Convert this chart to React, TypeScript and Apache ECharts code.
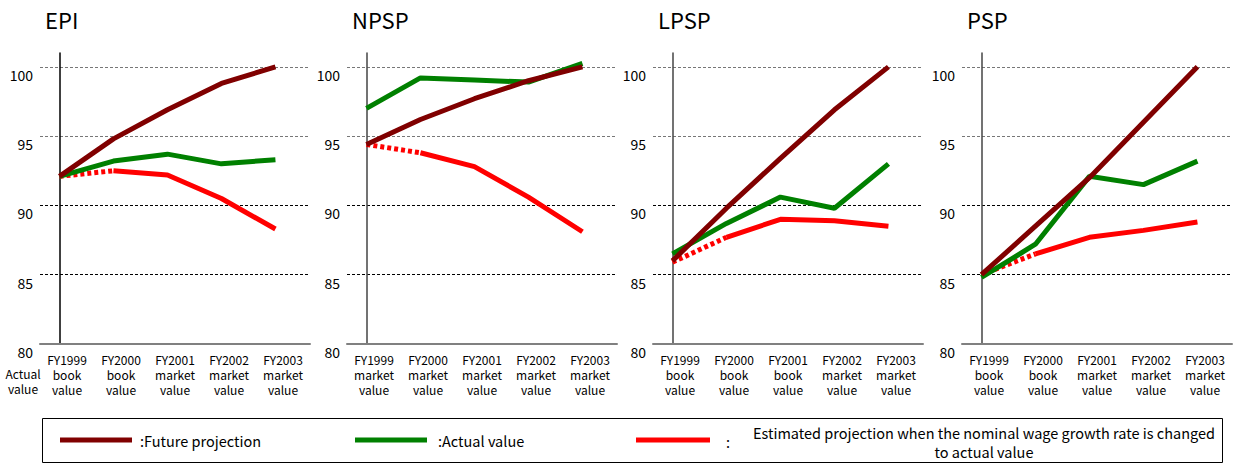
import React, { useEffect, useRef } from "react";
import * as echarts from "echarts";

const FONT = '"Noto Sans CJK JP", "Noto Sans", sans-serif';

const panelTitles = ["EPI", "NPSP", "LPSP", "PSP"];
const yTickValues = [80, 85, 90, 95, 100];

const catsEPI = ["FY1999\nbook\nvalue", "FY2000\nbook\nvalue", "FY2001\nmarket\nvalue", "FY2002\nmarket\nvalue", "FY2003\nmarket\nvalue"];
const catsNPSP = ["FY1999\nmarket\nvalue", "FY2000\nmarket\nvalue", "FY2001\nmarket\nvalue", "FY2002\nmarket\nvalue", "FY2003\nmarket\nvalue"];
const catsLPSP = ["FY1999\nbook\nvalue", "FY2000\nbook\nvalue", "FY2001\nbook\nvalue", "FY2002\nmarket\nvalue", "FY2003\nmarket\nvalue"];
const catsPSP = ["FY1999\nbook\nvalue", "FY2000\nbook\nvalue", "FY2001\nmarket\nvalue", "FY2002\nmarket\nvalue", "FY2003\nmarket\nvalue"];

// Future projection
const futureEPI = [92.1, 94.8, 96.9, 98.8, 100.0];
const futureNPSP = [94.4, 96.2, 97.7, 99.0, 100.0];
const futureLPSP = [86.0, 89.8, 93.4, 96.9, 100.0];
const futurePSP = [85.0, 88.5, 92.0, 96.0, 100.0];

// Actual value
const actualEPI = [92.1, 93.2, 93.7, 93.0, 93.3];
const actualNPSP = [97.0, 99.2, 99.05, 98.9, 100.25];
const actualLPSP = [86.5, 88.7, 90.6, 89.8, 93.0];
const actualPSP = [84.8, 87.2, 92.1, 91.5, 93.2];

// Estimated projection (nominal wage growth rate changed to actual value)
const estimEPI = [92.1, 92.5, 92.2, 90.5, 88.3];
const estimNPSP = [94.4, 93.8, 92.8, 90.6, 88.1];
const estimLPSP = [85.9, 87.7, 89.0, 88.9, 88.5];
const estimPSP = [85.0, 86.5, 87.7, 88.2, 88.8];

const categories = [catsEPI, catsNPSP, catsLPSP, catsPSP];
const futures = [futureEPI, futureNPSP, futureLPSP, futurePSP];
const actuals = [actualEPI, actualNPSP, actualLPSP, actualPSP];
const estims = [estimEPI, estimNPSP, estimLPSP, estimPSP];

const legendFuture = ":Future projection";
const legendActual = ":Actual value";
const legendEstim1 = "Estimated projection when the nominal wage growth rate is changed";
const legendEstim2 = "to actual value";

const DARKRED = "#800000";
const GREEN = "#008000";
const RED = "#ff0000";

export default function App() {
  const ref = useRef<HTMLDivElement>(null);

  useEffect(() => {
    if (!ref.current) return;
    const chart = echarts.init(ref.current, null, { renderer: "svg" });

    const lefts = [40, 347, 653, 962];
    const gridW = 270;
    const top = 53;
    const height = 291;

    const grids: any[] = [];
    const xAxes: any[] = [];
    const yAxes: any[] = [];
    const series: any[] = [];
    const graphics: any[] = [];

    for (let i = 0; i < 4; i++) {
      grids.push({ left: lefts[i], top, width: gridW, height });
      // value axis carrying the data
      xAxes.push({
        type: "value",
        gridIndex: i,
        min: -0.36,
        max: 4.64,
        axisLine: { show: true, lineStyle: { color: "#808080", width: 2 } },
        axisTick: { show: false },
        axisLabel: { show: false },
        splitLine: { show: false },
      });
      // category axis for the labels
      xAxes.push({
        type: "category",
        gridIndex: i,
        position: "bottom",
        boundaryGap: true,
        data: categories[i],
        axisLine: { show: false },
        axisTick: { show: false },
        axisLabel: {
          show: true,
          interval: 0,
          margin: 8,
          color: "#000",
          fontSize: 12,
          lineHeight: 15,
          fontFamily: FONT,
          verticalAlign: "top",
        },
        splitLine: { show: false },
      });
      yAxes.push({
        type: "value",
        gridIndex: i,
        min: yTickValues[0],
        max: 101,
        interval: 5,
        axisLine: { show: true, lineStyle: { color: i === 0 ? "#000" : "#444", width: 1.5 } },
        axisTick: { show: false },
        axisLabel: {
          show: true,
          showMaxLabel: false,
          color: "#000",
          fontSize: 14,
          fontFamily: FONT,
          margin: 7,
          verticalAlign: "top",
          padding: [1, 0, 0, 0],
          formatter: (v: number) => (yTickValues.includes(v) ? String(v) : ""),
        },
        splitLine: {
          show: true,
          showMaxLine: false,
          lineStyle: {
            color: ["rgba(0,0,0,0)", "#000", "#000", "#777", "#777", "rgba(0,0,0,0)"],
            type: [3, 2],
            width: 1,
          },
        },
      });

      const xi = 2 * i;
      const idx = categories[i].map((_, k) => k);
      const est = estims[i];
      series.push({
        type: "line",
        xAxisIndex: xi,
        yAxisIndex: i,
        symbol: "none",
        z: 2,
        lineStyle: { color: RED, width: 5, type: [4, 3] },
        data: idx.slice(0, 2).map((k) => [k, est[k]]),
      });
      series.push({
        type: "line",
        xAxisIndex: xi,
        yAxisIndex: i,
        symbol: "none",
        z: 2,
        lineStyle: { color: RED, width: 5 },
        data: idx.slice(1).map((k) => [k, est[k]]),
      });
      series.push({
        type: "line",
        xAxisIndex: xi,
        yAxisIndex: i,
        symbol: "none",
        z: 3,
        lineStyle: { color: GREEN, width: 5 },
        data: idx.map((k) => [k, actuals[i][k]]),
      });
      series.push({
        type: "line",
        xAxisIndex: xi,
        yAxisIndex: i,
        symbol: "none",
        z: 4,
        lineStyle: { color: DARKRED, width: 5 },
        data: idx.map((k) => [k, futures[i][k]]),
      });

      graphics.push({
        type: "text",
        left: lefts[i] + 5,
        top: 8,
        style: { text: panelTitles[i], fontSize: 22, fontFamily: FONT, fill: "#000" },
      });
    }

    // "Actual value" note for first panel
    graphics.push({
      type: "text",
      x: 23,
      y: 366,
      style: { text: "Actual\nvalue", fontSize: 12, lineHeight: 15, fontFamily: FONT, fill: "#000", align: "center" },
    });

    // Legend box
    graphics.push({
      type: "rect",
      shape: { x: 42.5, y: 418.5, width: 1180, height: 44 },
      style: { fill: "none", stroke: "#000", lineWidth: 1 },
    });
    graphics.push({ type: "line", shape: { x1: 60, y1: 440, x2: 132, y2: 440 }, style: { stroke: DARKRED, lineWidth: 5 } });
    graphics.push({ type: "text", x: 140, y: 440, style: { text: legendFuture, fontSize: 14.5, fontFamily: FONT, fill: "#000", verticalAlign: "middle" } });
    graphics.push({ type: "line", shape: { x1: 355, y1: 440, x2: 427, y2: 440 }, style: { stroke: GREEN, lineWidth: 5 } });
    graphics.push({ type: "text", x: 438, y: 440, style: { text: legendActual, fontSize: 14.5, fontFamily: FONT, fill: "#000", verticalAlign: "middle" } });
    graphics.push({ type: "line", shape: { x1: 636, y1: 440, x2: 710, y2: 440 }, style: { stroke: RED, lineWidth: 5 } });
    graphics.push({ type: "text", x: 726, y: 441, style: { text: ":", fontSize: 14.5, fontFamily: FONT, fill: "#000", verticalAlign: "middle" } });
    graphics.push({ type: "text", x: 984, y: 432, style: { text: legendEstim1, fontSize: 14.5, fontFamily: FONT, fill: "#000", align: "center", verticalAlign: "middle" } });
    graphics.push({ type: "text", x: 984, y: 451, style: { text: legendEstim2, fontSize: 14.5, fontFamily: FONT, fill: "#000", align: "center", verticalAlign: "middle" } });

    chart.setOption({
      animation: false,
      backgroundColor: "#fff",
      textStyle: { fontFamily: FONT },
      grid: grids,
      xAxis: xAxes,
      yAxis: yAxes,
      series,
      graphic: graphics,
    });

    return () => chart.dispose();
  }, []);

  return (
    <div
      ref={ref}
      style={{ position: "absolute", left: 0, top: 0, width: 1234, height: 465, background: "#fff" }}
    />
  );
}
